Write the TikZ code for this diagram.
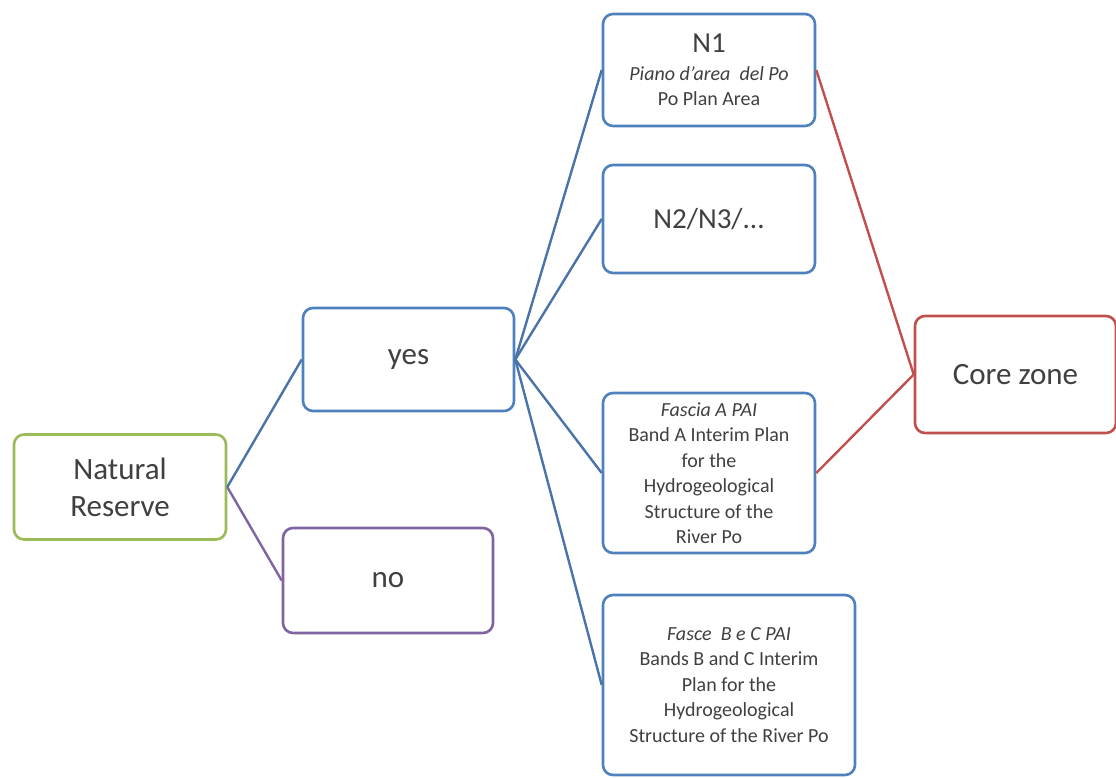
\documentclass[tikz,border=0pt]{standalone}
\usepackage{fontspec}
\setmainfont{Carlito}
\definecolor{txt}{HTML}{404040}
\definecolor{cgreen}{HTML}{9BBB59}
\definecolor{cblue}{HTML}{4F81BD}
\definecolor{clink}{HTML}{4A74A8}
\definecolor{cpurple}{HTML}{8064A2}
\definecolor{cred}{HTML}{C0504D}
\newcommand{\bigtxt}{\fontsize{31}{37}\selectfont}
\newcommand{\midtxt}{\fontsize{29}{34}\selectfont}
\newcommand{\smalltxt}{\fontsize{20}{25.5}\selectfont}
\begin{document}
\begin{tikzpicture}[x=1pt,y=-1pt,
  box/.style={draw,line width=2.6pt,rounded corners=10pt,fill=white,
    text=txt,align=center,inner sep=0pt},
  big/.style={box,font=\bigtxt},
  small/.style={box,font=\smalltxt},
  link/.style={line width=2.4pt}]
\useasboundingbox (0,0) rectangle (1116,778);

% tree nodes
\node[big,draw=cgreen,minimum width=212,minimum height=105] (nat) at (120,487)
  {Natural\\Reserve};
\node[big,draw=cblue,minimum width=211,minimum height=103] (yes) at (408.5,359.5)
  {yes};
\node[big,draw=cpurple,minimum width=210,minimum height=105] (no) at (388,580.5)
  {no};
\node[small,draw=cblue,minimum width=212,minimum height=112] (n1) at (709,70)
  {{\midtxt N1}\\[2pt]\textit{Piano d'area\ \ del Po}\\Po Plan Area};
\node[box,font=\midtxt,draw=cblue,minimum width=212,minimum height=108] (n2) at (709,219)
  {N2/N3/...};
\node[small,draw=cblue,minimum width=212,minimum height=160] (fa) at (709,473)
  {\textit{Fascia A PAI}\\Band A Interim Plan\\for the\\Hydrogeological\\Structure of the\\River Po};
\node[small,draw=cblue,minimum width=252,minimum height=180] (fb) at (729,685)
  {\textit{Fasce\ \ B e C PAI}\\Bands B and C Interim\\Plan for the\\Hydrogeological\\Structure of the River Po};
\node[big,draw=cred,minimum width=201,minimum height=117] (core) at (1015.5,374.5)
  {Core zone};

% connectors
\draw[link,clink] (nat.east) -- (yes.west);
\draw[link,cpurple] (nat.east) -- (no.west);
\draw[link,clink] (yes.east) -- (n1.west);
\draw[link,clink] (yes.east) -- (n2.west);
\draw[link,clink] (yes.east) -- (fa.west);
\draw[link,clink] (yes.east) -- (fb.west);
\draw[link,cred] (n1.east) -- (core.west);
\draw[link,cred] (fa.east) -- (core.west);
\end{tikzpicture}
\end{document}
